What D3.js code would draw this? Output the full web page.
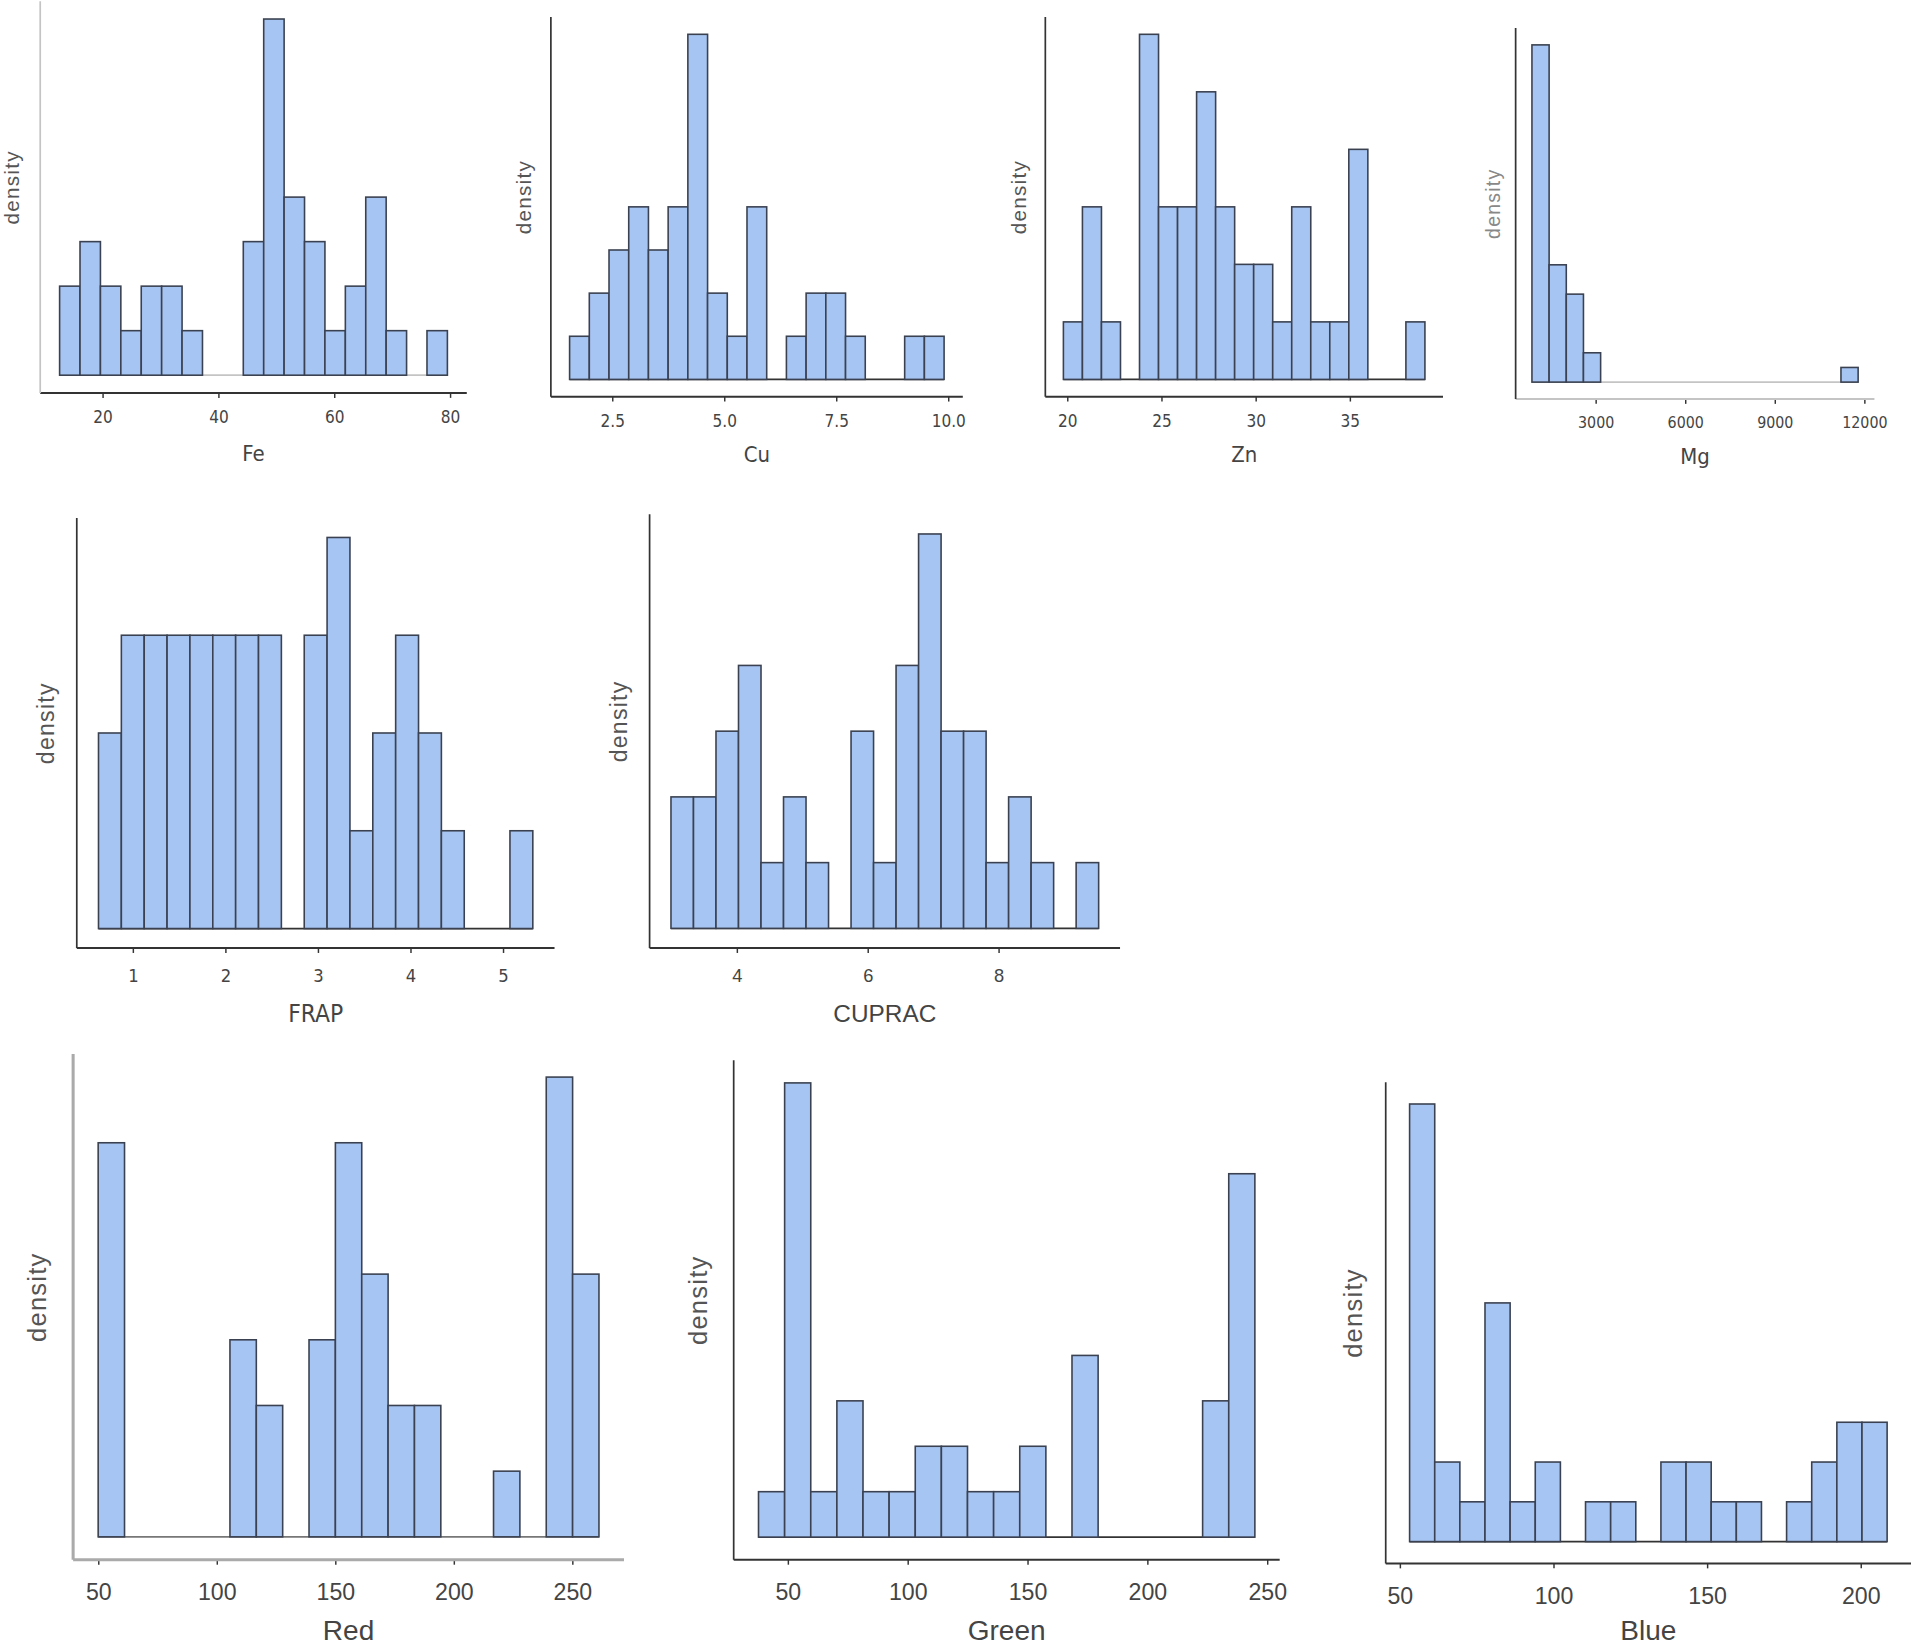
<!DOCTYPE html>
<html>
<head>
<meta charset="utf-8">
<script src="https://cdn.jsdelivr.net/npm/d3@7"></script>
<style>
  html, body { margin: 0; padding: 0; background: #fff; }
  svg { display: block; }
</style>
</head>
<body>
<div class="chart"></div>
<script>
// counts per bin (19 bins each)
const feCounts     = [2, 3, 2, 1, 2, 2, 1, 0, 0, 3, 8, 4, 3, 1, 2, 4, 1, 0, 1];
const cuCounts     = [1, 2, 3, 4, 3, 4, 8, 2, 1, 4, 0, 1, 2, 2, 1, 0, 0, 1, 1];
const znCounts     = [1, 3, 1, 0, 6, 3, 3, 5, 3, 2, 2, 1, 3, 1, 1, 4, 0, 0, 1];
const mgCounts     = [23, 8, 6, 2, 0, 0, 0, 0, 0, 0, 0, 0, 0, 0, 0, 0, 0, 0, 1];
const frapCounts   = [2, 3, 3, 3, 3, 3, 3, 3, 0, 3, 4, 1, 2, 3, 2, 1, 0, 0, 1];
const cupracCounts = [2, 2, 3, 4, 1, 2, 1, 0, 3, 1, 4, 6, 3, 3, 1, 2, 1, 0, 1];
const redCounts    = [6, 0, 0, 0, 0, 3, 2, 0, 3, 6, 4, 2, 2, 0, 0, 1, 0, 7, 4];
const greenCounts  = [1, 10, 1, 3, 1, 1, 2, 2, 1, 1, 2, 0, 4, 0, 0, 0, 0, 3, 8];
const blueCounts   = [11, 2, 1, 6, 1, 2, 0, 1, 1, 0, 2, 2, 1, 1, 0, 1, 2, 3, 3];

// [first bin start, bin width]
const feBins     = [12.6, 3.524];
const cuBins     = [1.55, 0.44];
const znBins     = [19.8, 1.01];
const mgBins     = [870, 575];
const frapBins   = [0.63, 0.247];
const cupracBins = [2.995, 0.344];
const redBins    = [50, 11.12];
const greenBins  = [37.8, 10.9];
const blueBins   = [53.2, 8.18];

// tick labels
const feTicks     = [20, 40, 60, 80];
const cuTicks     = [2.5, 5.0, 7.5, 10.0];
const znTicks     = [20, 25, 30, 35];
const mgTicks     = [3000, 6000, 9000, 12000];
const frapTicks   = [1, 2, 3, 4, 5];
const cupracTicks = [4, 6, 8];
const redTicks    = [50, 100, 150, 200, 250];
const greenTicks  = [50, 100, 150, 200, 250];
const blueTicks   = [50, 100, 150, 200];

const W = 1568, H = 1354;
const fill = "#a7c5f2";
const edge = "#3a4150";
const dark = "#333";
const light = "#c4c4c4";

// panel frames (axis box) and text sizes
const panels = [
    { title: "Fe", counts: feCounts, bins: feBins, ticks: feTicks, fmt: d3.format("d"),
      left: 33, right: 383, top: 1, bottom: 322.5, yAxisColor: light, xAxisColor: dark, zeroColor: light,
      tickSize: 14, titleSize: 18, labSize: 17, tickOff: 25, titleOff: 56, labX: 10, narrow: true },
    { title: "Cu", counts: cuCounts, bins: cuBins, ticks: cuTicks, fmt: d3.format(".1f"),
      left: 452, right: 790, top: 14, bottom: 325.5, yAxisColor: dark, xAxisColor: dark, zeroColor: dark,
      tickSize: 14, titleSize: 18, labSize: 17, tickOff: 25, titleOff: 54, labX: 430, narrow: true },
    { title: "Zn", counts: znCounts, bins: znBins, ticks: znTicks, fmt: d3.format("d"),
      left: 857.7, right: 1184, top: 14, bottom: 325.5, yAxisColor: dark, xAxisColor: dark, zeroColor: dark,
      tickSize: 14, titleSize: 18, labSize: 17, tickOff: 25, titleOff: 54, labX: 836, narrow: true },
    { title: "Mg", counts: mgCounts, bins: mgBins, ticks: mgTicks, fmt: d3.format("d"),
      left: 1243.6, right: 1538, top: 23, bottom: 327.4, yAxisColor: dark, xAxisColor: light, zeroColor: light,
      tickSize: 13, titleSize: 18, labSize: 16, tickOff: 24, titleOff: 53, labX: 1225, narrow: true, labColor: "#888" },
    { title: "FRAP", counts: frapCounts, bins: frapBins, ticks: frapTicks, fmt: d3.format("d"),
      left: 63, right: 455, top: 425, bottom: 778, yAxisColor: dark, xAxisColor: dark, zeroColor: dark,
      tickSize: 15, titleSize: 20, labSize: 19, tickOff: 28, titleOff: 61, labX: 38, narrow: true },
    { title: "CUPRAC", counts: cupracCounts, bins: cupracBins, ticks: cupracTicks, fmt: d3.format("d"),
      left: 533, right: 919, top: 422, bottom: 778, yAxisColor: dark, xAxisColor: dark, zeroColor: dark,
      tickSize: 15, titleSize: 20, labSize: 19, tickOff: 28, titleOff: 61, labX: 508, narrow: false },
    { title: "Red", counts: redCounts, bins: redBins, ticks: redTicks, fmt: d3.format("d"),
      left: 60, right: 512, top: 865, bottom: 1280, yAxisColor: "#aaa", xAxisColor: "#aaa", zeroColor: "#777",
      tickSize: 19, titleSize: 23, labSize: 21, tickOff: 33, titleOff: 66, labX: 30, narrow: false, axisWidth: 2.5 },
    { title: "Green", counts: greenCounts, bins: greenBins, ticks: greenTicks, fmt: d3.format("d"),
      left: 602, right: 1050, top: 870, bottom: 1280, yAxisColor: dark, xAxisColor: dark, zeroColor: dark,
      tickSize: 19, titleSize: 23, labSize: 21, tickOff: 33, titleOff: 66, labX: 573, narrow: false },
    { title: "Blue", counts: blueCounts, bins: blueBins, ticks: blueTicks, fmt: d3.format("d"),
      left: 1137, right: 1568, top: 888, bottom: 1283, yAxisColor: dark, xAxisColor: dark, zeroColor: dark,
      tickSize: 19, titleSize: 23, labSize: 21, tickOff: 33, titleOff: 63, labX: 1110, narrow: false },
];

const svg = d3.select(".chart")
    .append("svg")
    .attr("width", 1911)
    .attr("height", 1650)
    .attr("viewBox", `0 0 ${W} ${H}`)
    .attr("preserveAspectRatio", "none");

function drawHist(p) {
    const g = svg.append("g");
    const [start, width] = p.bins;
    const n = p.counts.length;
    const end = start + n * width;
    const pad = (end - start) * 0.05;
    const maxC = d3.max(p.counts);

    // ggplot style 5% expansion on both axes
    const x = d3.scaleLinear().domain([start - pad, end + pad]).range([p.left, p.right]);
    const y = d3.scaleLinear().domain([-maxC * 0.05, maxC * 1.05]).range([p.bottom, p.top]);

    const bins = p.counts.map((c, i) => ({ x0: start + i * width, x1: start + (i + 1) * width, c }));

    // zero line through empty bins
    g.append("line")
        .attr("x1", x(start)).attr("x2", x(end))
        .attr("y1", y(0)).attr("y2", y(0))
        .attr("stroke", p.zeroColor)
        .attr("stroke-width", 1.4);

    g.append("g")
        .selectAll("rect")
        .data(bins.filter(d => d.c > 0))
        .join("rect")
        .attr("x", d => x(d.x0))
        .attr("y", d => y(d.c))
        .attr("width", d => x(d.x1) - x(d.x0))
        .attr("height", d => y(0) - y(d.c))
        .attr("fill", fill)
        .attr("stroke", edge)
        .attr("stroke-width", 1.3);

    const font = p.narrow ? "'Liberation Sans Narrow', 'DejaVu Sans Condensed', 'Liberation Sans', sans-serif"
                          : "'Liberation Sans', Arial, sans-serif";

    // x axis
    const xAxis = d3.axisBottom(x).tickValues(p.ticks).tickFormat(p.fmt).tickSize(4).tickSizeOuter(0);
    const xg = g.append("g")
        .attr("transform", `translate(0,${p.bottom})`)
        .call(xAxis);
    xg.select(".domain").remove();
    xg.selectAll(".tick line").attr("stroke", dark).attr("stroke-width", 1.2);
    xg.selectAll(".tick text")
        .attr("y", p.tickOff - p.tickSize * 0.35)
        .attr("dy", "0.35em")
        .attr("fill", "#444")
        .style("font-family", font)
        .style("font-size", p.tickSize + "px");

    g.append("line")
        .attr("x1", p.left).attr("x2", p.right)
        .attr("y1", p.bottom).attr("y2", p.bottom)
        .attr("stroke", p.xAxisColor)
        .attr("stroke-width", p.axisWidth || 1.6);

    // y axis line only (no ticks)
    g.append("line")
        .attr("x1", p.left).attr("x2", p.left)
        .attr("y1", p.top).attr("y2", p.bottom)
        .attr("stroke", p.yAxisColor)
        .attr("stroke-width", p.axisWidth || 1.4);

    // titles
    g.append("text")
        .attr("x", (p.left + p.right) / 2)
        .attr("y", p.bottom + p.titleOff)
        .attr("text-anchor", "middle")
        .attr("fill", "#444")
        .style("font-family", font)
        .style("font-size", p.titleSize + "px")
        .text(p.title);

    g.append("text")
        .attr("transform", `translate(${p.labX},${(p.top + p.bottom) / 2 - 8}) rotate(-90)`)
        .attr("text-anchor", "middle")
        .attr("dy", "0.35em")
        .attr("fill", p.labColor || "#555")
        .style("font-family", "'Liberation Sans', Arial, sans-serif")
        .style("letter-spacing", "1px")
        .style("font-size", p.labSize + "px")
        .text("density");
}

panels.forEach(drawHist);
</script>
</body>
</html>
